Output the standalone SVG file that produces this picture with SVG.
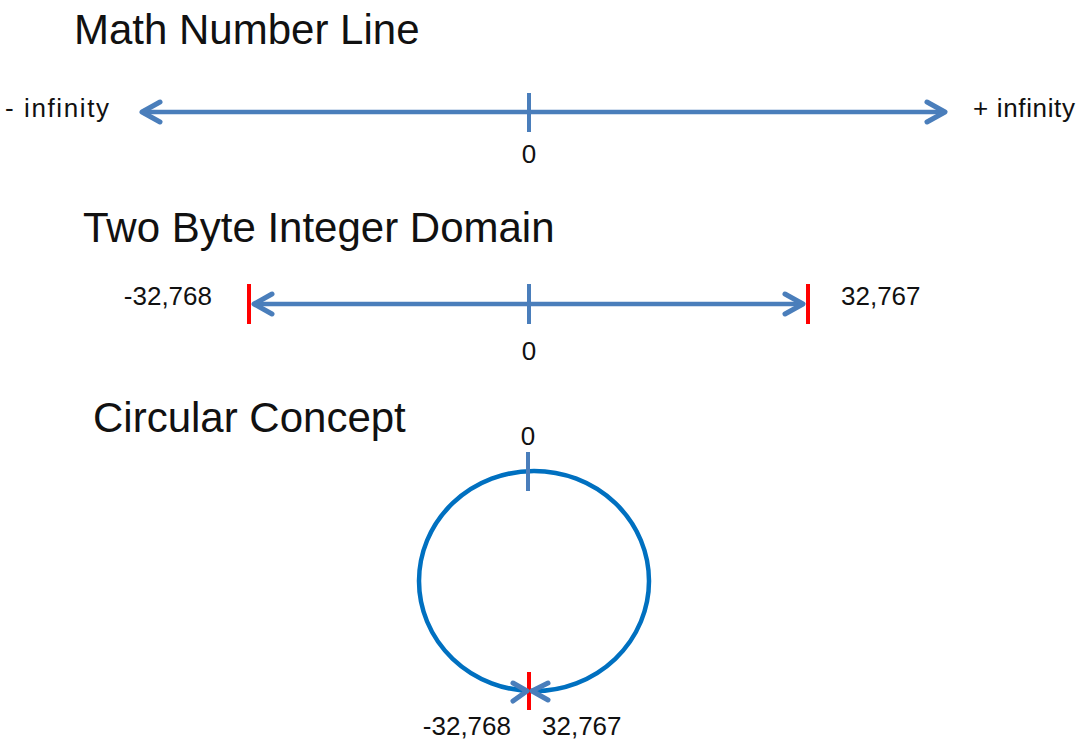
<svg xmlns="http://www.w3.org/2000/svg" width="1081" height="740" viewBox="0 0 1081 740">
  <style>
    .title { font-family: "Liberation Sans", Arial, sans-serif; font-size: 42px; fill: #111; }
    .lbl { font-family: "Liberation Sans", Arial, sans-serif; font-size: 26px; fill: #111; }
    .axis { stroke: #4A7EBB; stroke-width: 4.5; fill: none; }
    .tick { stroke: #4A7EBB; stroke-width: 4; fill: none; }
    .red { stroke: #FF0000; stroke-width: 4; fill: none; }
    .ring { stroke: #0070C0; stroke-width: 4.5; fill: none; }
    .chev { stroke: #4A7EBB; stroke-width: 5; fill: none; stroke-linecap: round; stroke-linejoin: round; }
  </style>
  <defs>
    <marker id="open" markerUnits="userSpaceOnUse" markerWidth="30" markerHeight="30" viewBox="-24 -15 30 30" refX="0" refY="0" orient="auto-start-reverse">
      <path d="M-18,-10 L0,0 L-18,10" stroke="#4A7EBB" stroke-width="5" fill="none" stroke-linecap="round" stroke-linejoin="round"/>
    </marker>
  </defs>
  <rect width="1081" height="740" fill="#ffffff"/>

  <!-- Section 1: Math Number Line -->
  <g id="title-math">
    <text class="title" x="74" y="44">Math Number Line</text>
  </g>
  <g id="label-neg-infinity">
    <text class="lbl" x="5" y="117" textLength="104" lengthAdjust="spacing">- infinity</text>
  </g>
  <g id="label-pos-infinity">
    <text class="lbl" x="973" y="117" textLength="102" lengthAdjust="spacing">+ infinity</text>
  </g>
  <g id="zero-1">
    <line class="tick" x1="529" y1="93" x2="529" y2="132"/>
    <text class="lbl" x="529" y="163" text-anchor="middle">0</text>
  </g>

  <!-- Section 2: Two Byte Integer Domain -->
  <g id="title-two-byte">
    <text class="title" x="83" y="242">Two Byte Integer Domain</text>
  </g>
  <g id="min-2">
    <line class="red" x1="249" y1="284" x2="249" y2="324"/>
    <text class="lbl" x="212" y="305" text-anchor="end">-32,768</text>
  </g>
  <g id="max-2">
    <line class="red" x1="808" y1="284" x2="808" y2="324"/>
    <text class="lbl" x="841" y="305">32,767</text>
  </g>
  <g id="zero-2">
    <line class="tick" x1="529" y1="284" x2="529" y2="324"/>
    <text class="lbl" x="529" y="360" text-anchor="middle">0</text>
  </g>

  <!-- Section 3: Circular Concept -->
  <g id="title-circular">
    <text class="title" x="93" y="432">Circular Concept</text>
  </g>
  <g id="ring">
    <ellipse class="ring" cx="534" cy="581" rx="115" ry="110"/>
  </g>
  <g id="zero-3">
    <line class="tick" x1="528" y1="452" x2="528" y2="491"/>
    <text class="lbl" x="528" y="445" text-anchor="middle">0</text>
  </g>
  <g id="wrap-point">
    <line class="red" x1="529" y1="672" x2="529" y2="710"/>
    <text class="lbl" x="511" y="735" text-anchor="end">-32,768</text>
    <text class="lbl" x="542" y="735">32,767</text>
  </g>

  <!-- Connectors -->
  <g id="connectors">
    <line class="axis" x1="142" y1="112" x2="945" y2="112" marker-start="url(#open)" marker-end="url(#open)"/>
    <line class="axis" x1="254" y1="304" x2="803" y2="304" marker-start="url(#open)" marker-end="url(#open)"/>
    <polyline class="chev" points="513,683 527,691 513,701"/>
    <polyline class="chev" points="548,683 532,691 548,700"/>
  </g>
</svg>
